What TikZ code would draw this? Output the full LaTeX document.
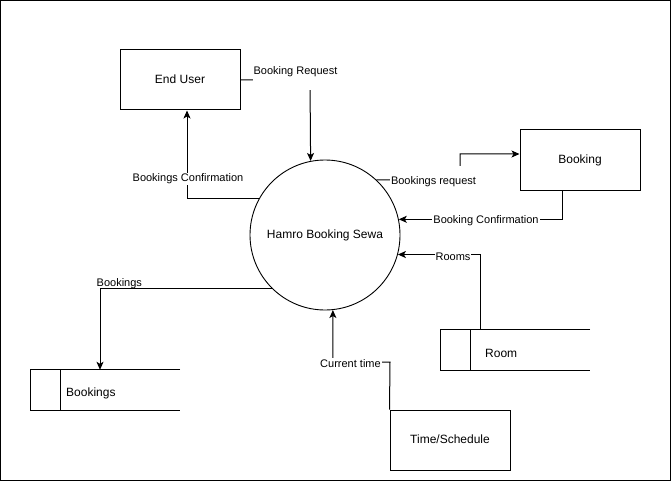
\documentclass[tikz,border=0pt]{standalone}
\usepackage{fontspec}
\setmainfont{Liberation Sans}
\usetikzlibrary{arrows.meta}
\begin{document}
\begin{tikzpicture}[x=1pt,y=-1pt,
  every node/.style={font=\fontsize{12}{14}\selectfont},
  entity/.style={draw, line width=1pt, minimum width=120pt, minimum height=60pt, inner sep=0pt, text height=8.2pt, text depth=1.2pt},
  process/.style={draw, circle, line width=0.9pt, minimum size=150pt, inner sep=0pt, text height=8.2pt, text depth=1.2pt},
  store/.style={minimum width=149pt, minimum height=40pt, inner sep=0pt},
  storeline/.style={line width=1pt},
  flow/.style={line width=1pt, -{Stealth[length=8pt,width=7pt,inset=2pt]}},
  lbl/.style={font=\fontsize{11}{13}\selectfont, fill=white, inner sep=1pt},
  plainlbl/.style={font=\fontsize{11}{13}\selectfont, inner sep=0pt},
]
\useasboundingbox (0,0) rectangle (671,481);
\draw[line width=1pt] (0.5,0.5) rectangle (670.5,480.5);

% entities and process
\node[entity] (user) at (180,80) {End User};
\node[entity] (booking) at (580,160) {Booking};
\node[entity] (time) at (450,440) {Time/Schedule};
\node[process] (hbs) at (325,235) {Hamro Booking Sewa};

% data stores
\node[store] (roomstore) at (515.5,350) {};
\draw[storeline] (roomstore.north east) -- (roomstore.north west) -- (roomstore.south west) -- (roomstore.south east);
\draw[storeline] ([xshift=30pt]roomstore.north west) -- ([xshift=30pt]roomstore.south west);
\node[anchor=west, inner sep=0pt] (roomtxt) at (485,353) {Room};

\node[store] (bstore) at (105.5,390) {};
\draw[storeline] (bstore.north east) -- (bstore.north west) -- (bstore.south west) -- (bstore.south east);
\draw[storeline] ([xshift=30pt]bstore.north west) -- ([xshift=30pt]bstore.south west);
\node[anchor=west, inner sep=0pt] (bstoretxt) at (66,393) {Bookings};

% flows
\draw[flow] (user.east) -- (310,80) -- (hbs.101.5);
\node[lbl, anchor=north, text height=9pt, text depth=15pt] (lreq) at (295.5,64) {Booking Request};

\draw[flow] (hbs.151.3) -| ([xshift=7pt]user.south);
\node[lbl] (lconf) at (188,179) {Bookings Confirmation};

\draw[flow] (hbs.47.2) -- (460,180) |- ([yshift=6pt]booking.west);
\node[lbl, minimum height=30pt] (lbreq) at (433.5,181.5) {Bookings request};

\draw[flow] ([xshift=-18pt]booking.south) |- (hbs.12.3);
\node[lbl] (lbconf) at (486,220.5) {Booking Confirmation};

\draw[flow] ([xshift=-35.5pt]roomstore.north) |- (hbs.-15.5);
\node[lbl] (lrooms) at (453,256.5) {Rooms};

\draw[flow] (hbs.225) -| ([xshift=-5.5pt]bstore.north);
\node[plainlbl, anchor=base west] (lbookings) at (96.5,286.5) {Bookings};

\draw[flow] (time.north west) -- (390,362) -| (hbs.276.1);
\node[lbl] (ltime) at (350.5,363.5) {Current time};
\end{tikzpicture}
\end{document}
